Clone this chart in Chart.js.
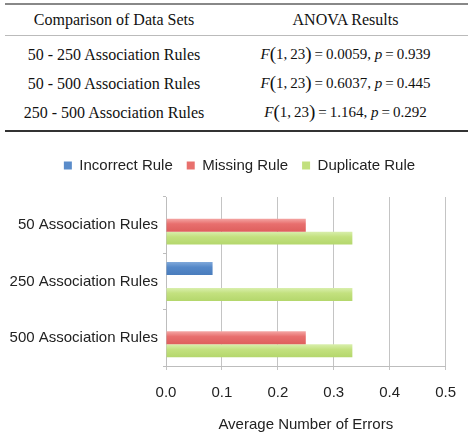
<!DOCTYPE html>
<html>
<head>
<meta charset="utf-8">
<script src="https://cdn.jsdelivr.net/npm/chart.js@4"></script>
<style>
  html, body { margin: 0; padding: 0; background: #fff; }
  body { width: 470px; height: 438px; position: relative; overflow: hidden; }
  #anova {
    position: absolute; left: 5px; top: 3px; width: 463px;
    border-collapse: collapse;
    font-family: "Liberation Serif", "Times New Roman", serif;
    font-size: 16px; color: #111;
    border-top: 2px solid #888; border-bottom: 2px solid #333;
  }
  #anova th { font-weight: normal; height: 30px; line-height: 30px; padding: 0; border-bottom: 1px solid #bbb; text-align: center; }
  #anova td { height: 29px; line-height: 29px; padding: 0; text-align: center; }
  #anova tbody tr:first-child td { padding-top: 4px; }
  #anova tbody tr:last-child td { padding-bottom: 3px; }
  #anova .expr { font-size: 15px; }
  #anova .paren { font-size: 19px; line-height: 0; vertical-align: -1px; }
  #wrap { position: absolute; left: 0; top: 136px; width: 470px; height: 302px; }
</style>
</head>
<body>
<table id="anova">
  <thead><tr><th style="width:218px">Comparison of Data Sets</th><th>ANOVA Results</th></tr></thead>
  <tbody></tbody>
</table>
<div id="wrap"><canvas id="barChart" width="470" height="302"></canvas></div>
<script>
// table data
const comparisons = ['50 - 250 Association Rules', '50 - 500 Association Rules', '250 - 500 Association Rules'];
const fValues = ['0.0059', '0.6037', '1.164'];
const pValues = ['0.939', '0.445', '0.292'];

// chart data
const categories = ['50 Association Rules', '250 Association Rules', '500 Association Rules'];
const incorrectRule = [0, 0.0833, 0];
const missingRule = [0.25, 0, 0.25];
const duplicateRule = [0.3333, 0.3333, 0.3333];
const xTicks = [0, 0.1, 0.2, 0.3, 0.4, 0.5];

// fill the ANOVA table
const tbody = document.querySelector('#anova tbody');
comparisons.forEach((c, i) => {
  const tr = document.createElement('tr');
  tr.innerHTML = '<td>' + c + '</td><td class="expr"><i>F</i><span class="paren">(</span>1,&thinsp;23<span class="paren">)</span>&thinsp;=&thinsp;' +
    fValues[i] + ', <i>p</i>&thinsp;=&thinsp;' + pValues[i] + '</td>';
  tbody.appendChild(tr);
});

const sans = '"Liberation Sans", Arial, sans-serif';
const solid = ['#5a8cca', '#e8706d', '#c2e07e'];
const shades = [
  ['#7fa8da', '#5588c8', '#4a7dbd'],
  ['#f4a5a3', '#e86f6e', '#de5f5d'],
  ['#d9efad', '#c3e17f', '#b4d76c']
];

// vertical gradient inside each bar, like the original
function barFill(s) {
  return c => {
    const el = c.element;
    if (!el || el.y === undefined || !el.height) return s[1];
    const g = c.chart.ctx.createLinearGradient(0, el.y - el.height / 2, 0, el.y + el.height / 2);
    g.addColorStop(0, s[0]);
    g.addColorStop(0.4, s[1]);
    g.addColorStop(1, s[2]);
    return g;
  };
}

// extra room under the legend and centre it like the original
const legendTweak = {
  id: 'legendTweak',
  beforeInit(chart) {
    const fit = chart.legend.fit;
    chart.legend.fit = function () { fit.call(this); this.height += 14; };
  },
  afterLayout(chart) {
    chart.legend.left += 12;
    chart.legend.right += 12;
  }
};

const ctx = document.getElementById('barChart').getContext('2d');
const myChart = new Chart(ctx, {
  type: 'bar',
  data: {
    labels: categories,
    datasets: [
      { label: 'Incorrect Rule', data: incorrectRule, backgroundColor: barFill(shades[0]) },
      { label: 'Missing Rule', data: missingRule, backgroundColor: barFill(shades[1]) },
      { label: 'Duplicate Rule', data: duplicateRule, backgroundColor: barFill(shades[2]) }
    ]
  },
  plugins: [legendTweak],
  options: {
    indexAxis: 'y',
    responsive: false,
    animation: false,
    categoryPercentage: 0.69,
    barPercentage: 1,
    layout: { padding: { top: 8, left: 6, right: 21, bottom: 0 } },
    plugins: {
      tooltip: { enabled: false },
      legend: {
        position: 'top',
        labels: {
          boxWidth: 8, boxHeight: 8, padding: 14, color: '#222',
          font: { family: sans, size: 15 },
          generateLabels: chart => Chart.defaults.plugins.legend.labels.generateLabels(chart)
            .map((item, i) => Object.assign(item, { fillStyle: solid[i], lineWidth: 0 }))
        }
      }
    },
    scales: {
      x: {
        min: 0, max: 0.5,
        afterBuildTicks: axis => { axis.ticks = xTicks.map(v => ({ value: v })); },
        afterFit: s => { s.height = 72; },
        ticks: {
          padding: 14, color: '#222', maxRotation: 0,
          font: { family: sans, size: 15 },
          callback: v => Number(v).toFixed(1)
        },
        grid: { color: '#c4c4c4', tickLength: 4 },
        border: { color: '#bdbdbd' },
        title: {
          display: true, text: 'Average Number of Errors', color: '#222',
          padding: { top: 13, bottom: 4 },
          font: { family: sans, size: 15 }
        }
      },
      y: {
        afterFit: s => { s.width = 160; },
        ticks: {
          padding: 5, color: '#222',
          font: { family: sans, size: 15 }
        },
        grid: { drawOnChartArea: false, color: '#bdbdbd', tickLength: 3 },
        border: { color: '#bdbdbd' }
      }
    }
  }
});
// second pass so the gradients can use the bar positions
myChart.update();
</script>
</body>
</html>
